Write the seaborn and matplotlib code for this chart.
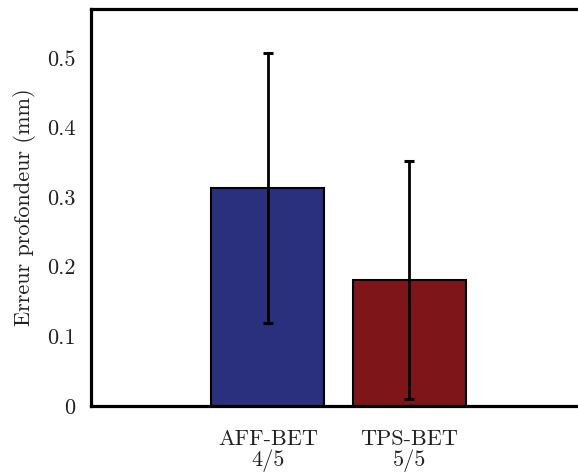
import pandas as pd
import seaborn as sns
import matplotlib.pyplot as plt

methods = ["AFF-BET\n4/5", "TPS-BET\n5/5"]
mean_error = [0.313, 0.181]
std_error = [0.194, 0.171]
bar_colors = ["#2a2f7e", "#7e1518"]
y_ticks = [0, 0.1, 0.2, 0.3, 0.4, 0.5]
y_tick_labels = ["0", "0.1", "0.2", "0.3", "0.4", "0.5"]

sns.set_theme(style="white")
plt.rcParams['font.family'] = ['cmr10', 'DejaVu Serif']
plt.rcParams['axes.formatter.use_mathtext'] = True

df = pd.DataFrame({"method": methods, "error": mean_error})

fig = plt.figure(figsize=(5.78, 4.74), dpi=100)
ax = fig.add_axes([91 / 578, 68 / 474, 495 / 578, 397 / 474])

sns.barplot(data=df, x="method", y="error", hue="method", palette=bar_colors,
            saturation=1, errorbar=None, width=0.8, edgecolor="black",
            linewidth=1.5, legend=False, ax=ax)
ax.errorbar(range(len(methods)), mean_error, yerr=std_error, fmt="none",
            ecolor="black", elinewidth=2, capsize=3.8, capthick=2.2)

ax.set_xlim(-1.25, 2.25)
ax.set_ylim(0, 0.57)
ax.set_yticks(y_ticks)
ax.set_yticklabels(y_tick_labels)
ax.set_xlabel("")
ax.set_ylabel("Erreur profondeur (mm)", fontsize=16, color="#222222", labelpad=8)
ax.tick_params(axis="y", length=0, pad=11, labelsize=16, labelcolor="#222222")
ax.tick_params(axis="x", length=0, pad=17, labelsize=16, labelcolor="#222222")
for lbl in ax.get_xticklabels():
    lbl.set_linespacing(1.0)

for side in ["left", "top", "bottom"]:
    ax.spines[side].set_linewidth(2.3)
    ax.spines[side].set_color("black")
ax.spines["right"].set_visible(False)

fig.savefig("out.png", dpi=100)
